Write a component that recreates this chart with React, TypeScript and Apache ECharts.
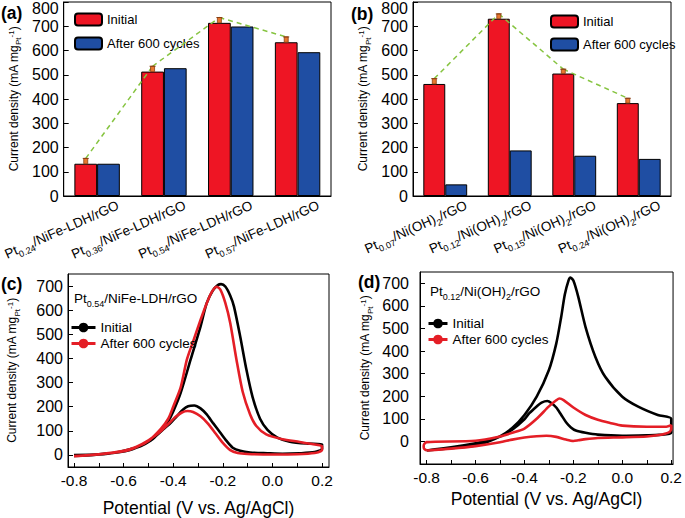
import React, { useEffect, useRef } from 'react';
import * as echarts from 'echarts';

const FONT = "'Liberation Sans', Arial, sans-serif";

// ---------- data ----------
const catA = ['Pt_{0.24}/NiFe-LDH/rGO', 'Pt_{0.36}/NiFe-LDH/rGO', 'Pt_{0.54}/NiFe-LDH/rGO', 'Pt_{0.57}/NiFe-LDH/rGO'];
const catB = ['Pt_{0.07}/Ni(OH)_{2}/rGO', 'Pt_{0.12}/Ni(OH)_{2}/rGO', 'Pt_{0.15}/Ni(OH)_{2}/rGO', 'Pt_{0.24}/Ni(OH)_{2}/rGO'];
const aInitial = [133, 513, 714, 634];
const aAfter = [133, 527, 699, 593];
const aErr = [22, 22, 22, 22];
const bInitial = [462, 731, 505, 383];
const bAfter = [48, 188, 166, 153];
const bErr = [22, 20, 18, 20];

const potLabels = [-0.8, -0.6, -0.4, -0.2, 0.0, 0.2];
const potTicks = [-0.8, -0.7, -0.6, -0.5, -0.4, -0.3, -0.2, -0.1, 0.0, 0.1, 0.2];
const cdTicks = [0, 100, 200, 300, 400, 500, 600, 700];

const cInitial = [
  [-0.80, 0], [-0.70, 3], [-0.60, 14], [-0.55, 30], [-0.50, 55], [-0.45, 100], [-0.42, 140], [-0.40, 180],
  [-0.37, 257], [-0.33, 395], [-0.29, 532], [-0.265, 629], [-0.24, 682], [-0.22, 704], [-0.207, 708],
  [-0.19, 698], [-0.17, 660], [-0.155, 615], [-0.13, 491], [-0.105, 354], [-0.08, 240], [-0.05, 150],
  [-0.02, 104], [0.02, 72], [0.07, 55], [0.14, 47], [0.20, 44],
  [0.20, 25], [0.17, 12], [0.11, 7], [0.04, 5], [-0.02, 7], [-0.09, 10], [-0.13, 17], [-0.16, 30],
  [-0.185, 58], [-0.21, 92], [-0.24, 133], [-0.265, 168], [-0.29, 193], [-0.315, 205], [-0.34, 202],
  [-0.36, 188], [-0.385, 161], [-0.41, 133], [-0.44, 106], [-0.47, 78], [-0.49, 60], [-0.53, 37],
  [-0.59, 19], [-0.65, 7], [-0.72, 0], [-0.80, -4],
];
const cAfter = [
  [-0.80, -5], [-0.70, 2], [-0.60, 15], [-0.55, 32], [-0.50, 58], [-0.45, 108], [-0.42, 150], [-0.40, 200],
  [-0.37, 280], [-0.345, 395], [-0.32, 470], [-0.30, 530], [-0.27, 615], [-0.25, 665], [-0.235, 690],
  [-0.225, 697], [-0.21, 685], [-0.19, 630], [-0.17, 546], [-0.145, 395], [-0.12, 262], [-0.09, 168],
  [-0.065, 120], [-0.025, 85], [0.04, 65], [0.11, 54], [0.16, 45], [0.20, 36],
  [0.20, 20], [0.17, 8], [0.10, 3], [0.00, 2], [-0.10, 4], [-0.14, 8], [-0.17, 20], [-0.20, 50],
  [-0.23, 90], [-0.26, 130], [-0.29, 160], [-0.32, 178], [-0.343, 182], [-0.365, 176], [-0.39, 158],
  [-0.42, 128], [-0.45, 98], [-0.50, 60], [-0.55, 33], [-0.60, 17], [-0.70, 3], [-0.80, -5],
];
const dInitial = [
  [-0.80, -40], [-0.70, -30], [-0.60, -18], [-0.55, -2], [-0.50, 22], [-0.45, 59], [-0.40, 117], [-0.35, 198],
  [-0.30, 316], [-0.27, 433], [-0.25, 550], [-0.235, 650], [-0.22, 712], [-0.212, 725], [-0.20, 712],
  [-0.18, 640], [-0.15, 505], [-0.11, 374], [-0.07, 286], [0.00, 198], [0.065, 154], [0.145, 117], [0.20, 100],
  [0.20, 38], [0.15, 29], [0.10, 27], [0.00, 25], [-0.10, 30], [-0.15, 38], [-0.19, 48], [-0.21, 62],
  [-0.23, 85], [-0.25, 118], [-0.27, 150], [-0.29, 170], [-0.306, 179], [-0.33, 172], [-0.35, 155],
  [-0.38, 125], [-0.40, 98], [-0.45, 52], [-0.50, 22], [-0.55, 4], [-0.60, -8], [-0.70, -26], [-0.80, -40],
];
const dAfter = [
  [-0.80, -40], [-0.70, -32], [-0.60, -21], [-0.50, -4], [-0.45, 8], [-0.40, 17], [-0.35, 23], [-0.31, 25],
  [-0.27, 20], [-0.23, 8], [-0.20, 2], [-0.18, 5], [-0.15, 10], [-0.10, 15], [0.00, 18], [0.10, 22],
  [0.15, 28], [0.19, 40], [0.20, 55],
  [0.20, 72], [0.18, 65], [0.10, 65], [0.00, 70], [-0.05, 82], [-0.10, 96], [-0.15, 117], [-0.20, 150],
  [-0.24, 183], [-0.257, 190], [-0.27, 182], [-0.30, 155], [-0.35, 100], [-0.40, 57], [-0.45, 38],
  [-0.50, 22], [-0.60, 3], [-0.80, -3], [-0.81, -12], [-0.812, -22], [-0.81, -32], [-0.80, -40],
];

const Y_NAME = 'Current density (mA mg_{Pt}^{-1})';
const X_NAME = 'Potential (V vs. Ag/AgCl)';

// ---------- helpers ----------
function toRich(s: string): string {
  return s
    .split(/(_\{[^}]*\}|\^\{[^}]*\})/)
    .filter((p) => p.length > 0)
    .map((p) => (p.startsWith('_{') ? `{s|${p.slice(2, -1)}}` : p.startsWith('^{') ? `{p|${p.slice(2, -1)}}` : `{n|${p}}`))
    .join('');
}
function richSet(size: number, small: number) {
  return {
    n: { fontSize: size, fontFamily: FONT, color: '#000' },
    s: { fontSize: small, fontFamily: FONT, color: '#000', verticalAlign: 'bottom', padding: [0, 0, -3, 0] },
    p: { fontSize: small, fontFamily: FONT, color: '#000', verticalAlign: 'top' },
  };
}

const BAR_FRAC = 0.34;
const ERR_FILL = '#e8772e';
const ERR_EDGE = '#8a3e12';
const GREEN = '#86c440';
const RED_BAR = '#ee1524';
const BLUE_BAR = '#1f4ea3';
const RED_LINE = '#e41e26';

function errRender(vals: number[], errs: number[]) {
  return (params: any, api: any) => {
    const i = api.value(0);
    const v = api.value(1);
    const e = api.value(2);
    const band = api.size([1, 0])[0];
    const off = (-band * BAR_FRAC) / 2;
    const base = api.coord([i, v]);
    const top = api.coord([i, v + e]);
    const x = base[0] + off;
    const children: any[] = [];
    if (i < vals.length - 1) {
      const nxt = api.coord([i + 1, vals[i + 1] + errs[i + 1]]);
      children.push({
        type: 'line',
        shape: { x1: x, y1: top[1], x2: nxt[0] + off, y2: nxt[1] },
        style: { stroke: GREEN, lineWidth: 1.5, lineDash: [5, 4] },
      });
    }
    children.push({
      type: 'rect',
      shape: { x: x - 2, y: top[1], width: 4, height: base[1] - top[1] },
      style: { fill: ERR_FILL, stroke: ERR_EDGE, lineWidth: 0.8 },
    });
    children.push({
      type: 'line',
      shape: { x1: x - 3, y1: top[1], x2: x + 3, y2: top[1] },
      style: { stroke: ERR_EDGE, lineWidth: 1 },
    });
    return { type: 'group', children };
  };
}

const axisLineStyle = { onZero: false, lineStyle: { color: '#000', width: 1 } };

function barXAxis(grid: number, cats: string[]) {
  return {
    type: 'category',
    gridIndex: grid,
    data: cats,
    axisLine: axisLineStyle,
    axisTick: { show: false },
    axisLabel: {
      interval: 0,
      rotate: 24,
      margin: 18,
      padding: [0, -23, 0, 0],
      formatter: (v: string) => toRich(v),
      rich: richSet(13.5, 9),
    },
  };
}
function barYAxis(grid: number, nameGap: number, topPad: number) {
  return {
    type: 'value',
    gridIndex: grid,
    min: 0,
    max: 800,
    interval: 100,
    splitLine: { show: false },
    axisLine: { show: true, ...axisLineStyle },
    axisTick: { show: true, inside: true, length: 5, lineStyle: { color: '#000' } },
    axisLabel: {
      margin: 5,
      fontSize: 16,
      fontFamily: FONT,
      color: '#000',
      showMaxLabel: true,
      showMinLabel: true,
      formatter: (v: number) => (v === 800 ? `{t|${v}}` : String(v)),
      rich: { t: { fontSize: 16, fontFamily: FONT, color: '#000', padding: [topPad, 0, 0, 0] } },
    },
    name: toRich(Y_NAME),
    nameLocation: 'middle',
    nameGap,
    nameTextStyle: { rich: richSet(12, 8) },
  };
}
function cvXAxis(grid: number, min: number, max: number, nameGap: number) {
  return {
    type: 'value',
    gridIndex: grid,
    min,
    max,
    splitLine: { show: false },
    axisLine: axisLineStyle,
    axisTick: { show: true, inside: true, length: 4, customValues: potTicks, lineStyle: { color: '#000' } },
    axisLabel: {
      customValues: potLabels,
      margin: 5,
      fontSize: 15.5,
      fontFamily: FONT,
      color: '#000',
      showMaxLabel: true,
      showMinLabel: true,
      formatter: (v: number) => v.toFixed(1),
    },
    name: X_NAME,
    nameLocation: 'middle',
    nameGap,
    nameTextStyle: { fontSize: 17.5, fontFamily: FONT, color: '#000' },
  };
}
function cvYAxis(grid: number, min: number, max: number, nameGap: number, margin: number) {
  return {
    type: 'value',
    gridIndex: grid,
    min,
    max,
    splitLine: { show: false },
    axisLine: { show: true, ...axisLineStyle },
    axisTick: { show: true, inside: true, length: 5, customValues: cdTicks, lineStyle: { color: '#000' } },
    axisLabel: {
      customValues: cdTicks, margin, fontSize: 16, fontFamily: FONT, color: '#000',
      showMaxLabel: true, showMinLabel: true,
    },
    name: toRich(Y_NAME),
    nameLocation: 'middle',
    nameGap,
    nameTextStyle: { rich: richSet(12, 8) },
  };
}

function barLegend(left: number, top: number, gap: number) {
  return {
    data: ['Initial', 'After 600 cycles'],
    orient: 'vertical',
    left,
    top,
    padding: 0,
    itemWidth: 27,
    itemHeight: 12,
    itemGap: gap,
    selectedMode: false,
    textStyle: { fontSize: 13, fontFamily: FONT, color: '#000', lineHeight: 13 },
  };
}
function lineLegend(prefix: string, left: number, top: number, w: number) {
  return {
    data: [`${prefix}Initial`, `${prefix}After 600 cycles`],
    formatter: (n: string) => n.slice(prefix.length),
    orient: 'vertical',
    left,
    top,
    padding: 0,
    itemWidth: w,
    itemHeight: 12,
    itemGap: 2,
    selectedMode: false,
    lineStyle: { width: 3 },
    textStyle: { fontSize: 13.5, fontFamily: FONT, color: '#000', lineHeight: 14 },
  };
}

function panelLabel(text: string, x: number, y: number) {
  return {
    type: 'text',
    x,
    y,
    style: { text, fontSize: 17.5, fontWeight: 'bold', fontFamily: FONT, fill: '#000', align: 'left', verticalAlign: 'middle' },
  };
}
function panelTitle(text: string, x: number, y: number) {
  return {
    type: 'text',
    x,
    y,
    style: { text: toRich(text), rich: richSet(13.5, 9), align: 'left', verticalAlign: 'middle' },
  };
}

export default function App() {
  const ref = useRef<HTMLDivElement>(null);
  useEffect(() => {
    document.body.style.margin = '0';
    if (!ref.current) return;
    const chart = echarts.init(ref.current, undefined, { renderer: 'svg' });
    const gridStyle = { show: true, borderColor: '#000', borderWidth: 1, backgroundColor: 'transparent' };
    chart.setOption({
      animation: false,
      backgroundColor: '#fff',
      textStyle: { fontFamily: FONT },
      grid: [
        { left: 63, top: 2, width: 268, height: 194, ...gridStyle },
        { left: 413, top: 2, width: 258, height: 194, ...gridStyle },
        { left: 68, top: 274, width: 261, height: 193, ...gridStyle },
        { left: 420, top: 272, width: 255, height: 192, ...gridStyle },
      ],
      xAxis: [
        barXAxis(0, catA),
        barXAxis(1, catB),
        cvXAxis(2, -0.8242, 0.228, 32),
        cvXAxis(3, -0.827, 0.2075, 26),
      ],
      yAxis: [
        barYAxis(0, 44, 13),
        barYAxis(1, 44, 13),
        cvYAxis(2, -50, 750, 50, 5),
        cvYAxis(3, -100, 750, 49, 11),
      ],
      legend: [
        barLegend(74, 12.5, 10),
        barLegend(550, 14.5, 9),
        lineLegend('c-', 70, 320.5, 24),
        lineLegend('d-', 427, 316.5, 19),
      ],
      graphic: [
        panelLabel('(a)', 1, 13),
        panelLabel('(b)', 351, 13.5),
        panelLabel('(c)', 1, 284),
        panelLabel('(d)', 358, 281.5),
        panelTitle('Pt_{0.54}/NiFe-LDH/rGO', 74, 298),
        panelTitle('Pt_{0.12}/Ni(OH)_{2}/rGO', 430, 291.5),
      ],
      series: [
        {
          type: 'bar', name: 'Initial', xAxisIndex: 0, yAxisIndex: 0, data: aInitial,
          barWidth: `${BAR_FRAC * 100}%`, barGap: '0%',
          itemStyle: { color: RED_BAR, borderColor: '#000', borderWidth: 1 },
        },
        {
          type: 'bar', name: 'After 600 cycles', xAxisIndex: 0, yAxisIndex: 0, data: aAfter,
          barWidth: `${BAR_FRAC * 100}%`, barGap: '0%',
          itemStyle: { color: BLUE_BAR, borderColor: '#000', borderWidth: 1 },
        },
        {
          type: 'custom', xAxisIndex: 0, yAxisIndex: 0, z: 10,
          data: aInitial.map((v, i) => [i, v, aErr[i]]),
          encode: { x: 0, y: 1 },
          renderItem: errRender(aInitial, aErr),
        },
        {
          type: 'bar', name: 'Initial', xAxisIndex: 1, yAxisIndex: 1, data: bInitial,
          barWidth: `${BAR_FRAC * 100}%`, barGap: '0%',
          itemStyle: { color: RED_BAR, borderColor: '#000', borderWidth: 1 },
        },
        {
          type: 'bar', name: 'After 600 cycles', xAxisIndex: 1, yAxisIndex: 1, data: bAfter,
          barWidth: `${BAR_FRAC * 100}%`, barGap: '0%',
          itemStyle: { color: BLUE_BAR, borderColor: '#000', borderWidth: 1 },
        },
        {
          type: 'custom', xAxisIndex: 1, yAxisIndex: 1, z: 10,
          data: bInitial.map((v, i) => [i, v, bErr[i]]),
          encode: { x: 0, y: 1 },
          renderItem: errRender(bInitial, bErr),
        },
        {
          type: 'line', name: 'c-Initial', xAxisIndex: 2, yAxisIndex: 2, data: cInitial,
          symbol: 'none', smooth: 0.25, lineStyle: { color: '#000', width: 2.6 }, itemStyle: { color: '#000' },
        },
        {
          type: 'line', name: 'c-After 600 cycles', xAxisIndex: 2, yAxisIndex: 2, data: cAfter,
          symbol: 'none', smooth: 0.25, lineStyle: { color: RED_LINE, width: 2.6 }, itemStyle: { color: RED_LINE },
        },
        {
          type: 'line', name: 'd-Initial', xAxisIndex: 3, yAxisIndex: 3, data: dInitial,
          symbol: 'none', smooth: 0.25, lineStyle: { color: '#000', width: 2.6 }, itemStyle: { color: '#000' },
        },
        {
          type: 'line', name: 'd-After 600 cycles', xAxisIndex: 3, yAxisIndex: 3, data: dAfter,
          symbol: 'none', smooth: 0.25, lineStyle: { color: RED_LINE, width: 2.6 }, itemStyle: { color: RED_LINE },
        },
      ],
    });
    return () => chart.dispose();
  }, []);
  return <div ref={ref} style={{ width: 685, height: 518 }} />;
}
